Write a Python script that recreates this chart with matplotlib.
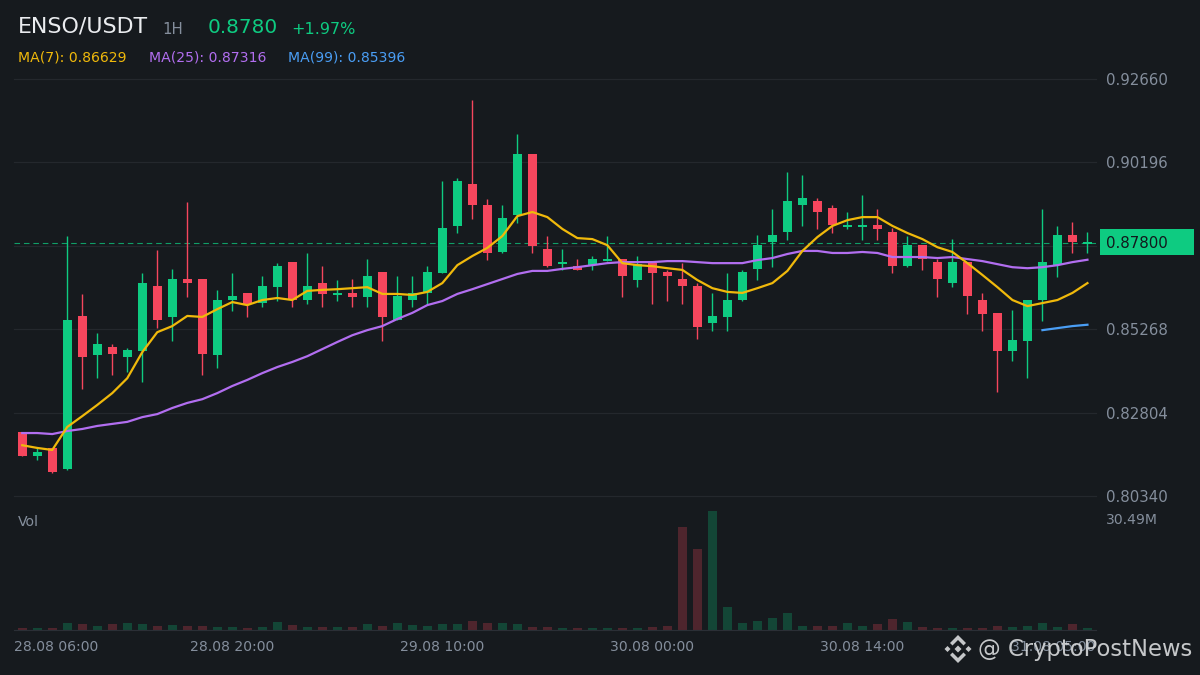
import matplotlib
matplotlib.use("Agg")
import matplotlib.pyplot as plt
from matplotlib.patches import Polygon, Rectangle
from matplotlib.transforms import ScaledTranslation

opens = [.8223,.8152,.8176,.8114,.8566,.8450,.8474,.8444,.8462,.8654,.8563,.8675,.8675,.8450,.8613,.8634,.8604,.8651,
         .8725,.8613,.8663,.8628,.8634,.8621,.8696,.8554,.8613,.8634,.8693,.8832,.8956,.8894,.8755,.8864,.9044,.8764,
         .8719,.8713,.8716,.8728,.8734,.8672,.8722,.8696,.8675,.8654,.8545,.8563,.8613,.8705,.8784,.8814,.8894,.8905,
         .8885,.8829,.8829,.8835,.8814,.8713,.8775,.8725,.8663,.8725,.8613,.8575,.8462,.8492,.8613,.8716,.8805,.8778]
closes = [.8152,.8164,.8105,.8554,.8444,.8483,.8453,.8465,.8663,.8554,.8675,.8663,.8453,.8613,.8625,.8601,.8654,.8713,
          .8613,.8654,.8631,.8634,.8621,.8684,.8563,.8625,.8634,.8696,.8826,.8965,.8894,.8752,.8855,.9044,.8772,.8713,
          .8725,.8702,.8734,.8734,.8684,.8719,.8693,.8684,.8654,.8533,.8566,.8613,.8696,.8775,.8805,.8905,.8914,.8873,
          .8835,.8835,.8835,.8823,.8713,.8775,.8734,.8675,.8725,.8625,.8572,.8462,.8495,.8613,.8725,.8805,.8784,.8780]
highs = [.8223,.8179,.8176,.8802,.8631,.8515,.8483,.8471,.8693,.8761,.8705,.8903,.8675,.8643,.8693,.8634,.8684,.8722,
         .8725,.8752,.8713,.8672,.8675,.8734,.8696,.8684,.8684,.8713,.8965,.8973,.9204,.8911,.8894,.9103,.9044,.8802,
         .8764,.8734,.8743,.8802,.8734,.8743,.8722,.8702,.8722,.8663,.8634,.8693,.8702,.8805,.8882,.8991,.8982,.8914,
         .8894,.8873,.8923,.8882,.8826,.8802,.8775,.8734,.8793,.8725,.8634,.8575,.8583,.8613,.8882,.8832,.8843,.8814]
lows = [.8152,.8140,.8102,.8111,.8350,.8382,.8391,.8400,.8371,.8530,.8492,.8621,.8391,.8412,.8580,.8563,.8592,.8610,
        .8592,.8601,.8592,.8610,.8592,.8592,.8492,.8554,.8592,.8601,.8693,.8811,.8852,.8731,.8752,.8840,.8752,.8710,
        .8702,.8702,.8702,.8728,.8621,.8651,.8601,.8610,.8601,.8498,.8521,.8521,.8610,.8672,.8710,.8790,.8832,.8823,
        .8811,.8823,.8790,.8790,.8693,.8710,.8702,.8621,.8651,.8572,.8521,.8341,.8433,.8382,.8551,.8681,.8752,.8752]
ma7 = [.8184,.8176,.8170,.8238,.8270,.8303,.8338,.8382,.8459,.8518,.8536,.8566,.8563,.8586,.8607,.8598,.8613,.8619,
       .8613,.8640,.8643,.8645,.8648,.8651,.8631,.8631,.8628,.8637,.8663,.8716,.8743,.8767,.8802,.8861,.8873,.8858,
       .8823,.8796,.8793,.8775,.8722,.8716,.8713,.8707,.8702,.8672,.8648,.8637,.8634,.8648,.8663,.8699,.8758,.8799,
       .8832,.8849,.8858,.8858,.8832,.8811,.8793,.8769,.8755,.8722,.8687,.8651,.8613,.8595,.8604,.8613,.8634,.8663]
ma25 = [.8220,.8220,.8217,.8226,.8232,.8241,.8247,.8253,.8267,.8276,.8294,.8309,.8320,.8338,.8359,.8377,.8397,.8415,
        .8430,.8447,.8468,.8489,.8509,.8524,.8536,.8557,.8575,.8598,.8610,.8631,.8645,.8660,.8675,.8690,.8699,.8699,
        .8705,.8710,.8716,.8722,.8725,.8725,.8725,.8728,.8728,.8725,.8722,.8722,.8722,.8731,.8737,.8749,.8758,.8758,
        .8752,.8752,.8755,.8752,.8740,.8740,.8740,.8737,.8740,.8734,.8728,.8719,.8710,.8707,.8710,.8716,.8725,.8732]
ma99 = [.8524,.8530,.8536,.8540]
ma99_start = 68
volumes = [.26,.26,.26,1.55,1.29,.78,1.29,1.55,1.29,.78,1.03,.78,.78,.52,.52,.26,.52,1.81,1.03,.52,.52,.52,.52,1.29,
           .78,1.55,1.03,.78,1.29,1.29,2.07,1.55,1.55,1.29,.52,.52,.26,.26,.26,.26,.26,.26,.52,.78,26.35,20.67,30.49,
           5.68,1.55,2.07,2.84,4.13,.78,.78,.78,1.55,.78,1.29,2.58,1.81,.52,.26,.26,.26,.26,.78,.52,.78,1.55,.52,1.29,.26]
price_ticks = [.92660,.90196,.87732,.85268,.82804,.80340]
price_tick_labels = ["0.92660","0.90196","","0.85268","0.82804","0.80340"]
time_tick_pos = [0,14,28,42,56,71]
time_tick_labels = ["28.08 06:00","28.08 20:00","29.08 10:00","30.08 00:00","30.08 14:00","31.08 05:00"]
last_price = .8780

BG = "#161A1E"; GRID = "#24282D"; GRAY = "#848E9C"
UP = "#0ECB81"; DOWN = "#F6465D"
YEL = "#F0B90B"; PUR = "#B26EF0"; BLU = "#4A9EF5"
W, H = 1200, 675

fig = plt.figure(figsize=(12, 6.75), dpi=100, facecolor=BG)
def rect(l, t, r, b):
    return [l / W, 1 - b / H, (r - l) / W, (b - t) / H]

ax = fig.add_axes(rect(14, 79, 1096, 496), facecolor=BG)
xs = list(range(len(opens)))
xlim = (-0.55, 71.57)
colors = [UP if c >= o else DOWN for o, c in zip(opens, closes)]
ax.vlines(xs, lows, highs, colors=colors, linewidth=1.0, zorder=3)
ax.bar(xs, [max(abs(c - o), 0.0005) for o, c in zip(opens, closes)],
       bottom=[min(o, c) for o, c in zip(opens, closes)], width=0.6, color=colors, linewidth=0, zorder=3)
ax.plot(xs, ma25, color=PUR, lw=1.6, zorder=4)
ax.plot(xs, ma7, color=YEL, lw=1.6, zorder=5)
ax.plot(range(ma99_start, ma99_start + len(ma99)), ma99, color=BLU, lw=1.6, zorder=5)
ax.axhline(last_price, color=UP, lw=0.8, alpha=0.75, dashes=(5, 3.5), zorder=2)
ax.set_xlim(*xlim)
ax.set_ylim(.80340, .92660)
ax.set_yticks(price_ticks, price_tick_labels)
ax.yaxis.tick_right()
ax.tick_params(axis="y", length=0, pad=7.2, labelsize=10.8, labelcolor=GRAY)
ax.set_xticks([])
ax.grid(axis="y", color=GRID, lw=0.9)
ax.set_axisbelow(True)
for gl in ax.get_ygridlines():
    gl.set_clip_on(False)
for s in ax.spines.values():
    s.set_visible(False)

vax = fig.add_axes(rect(14, 511, 1096, 629.5), facecolor="none")
vax.bar(xs, volumes, width=0.6, color=colors, alpha=0.25, linewidth=0)
vax.set_xlim(*xlim)
vax.set_ylim(0, 30.49)
vax.set_yticks([])
vax.set_xticks(time_tick_pos, time_tick_labels)
vax.tick_params(axis="x", length=0, pad=7.5, labelsize=10.1, labelcolor=GRAY)
for s in vax.spines.values():
    s.set_visible(False)
vax.spines["bottom"].set_visible(True)
vax.spines["bottom"].set_color("#2B2F36")
vax.spines["bottom"].set_linewidth(0.8)
labels = vax.get_xticklabels()
labels[0].set_ha("left")
labels[0].set_transform(labels[0].get_transform() + ScaledTranslation(-8.5 / 100, 0, fig.dpi_scale_trans))
labels[-1].set_ha("right")
labels[-1].set_transform(labels[-1].get_transform() + ScaledTranslation(7.5 / 100, 0, fig.dpi_scale_trans))

ov = fig.add_axes([0, 0, 1, 1], facecolor="none", zorder=10)
ov.set_xlim(0, W); ov.set_ylim(H, 0); ov.axis("off")
def label(x, y, s, color, size, **kw):
    ov.text(x, y, s, color=color, fontsize=size, va="center", ha=kw.pop("ha", "left"), **kw)
label(18, 27, "ENSO/USDT", "#EAECEF", 15.9)
label(162, 29.5, "1H", GRAY, 10.8)
label(208, 27.5, "0.8780", UP, 14.4)
label(291, 29, "+1.97%", UP, 11.5)
label(18, 57.5, "MA(7): 0.86629", YEL, 10.1)
label(149, 57.5, "MA(25): 0.87316", PUR, 10.1)
label(288, 57.5, "MA(99): 0.85396", BLU, 10.1)
label(18, 522.5, "Vol", GRAY, 10.1)
label(1106, 520, "30.49M", GRAY, 10.1)
ov.add_patch(Rectangle((1100, 229), 94, 26, color=UP, lw=0))
label(1106, 243, "0.87800", "#12181C", 10.8)

# watermark
cx, cy = 958, 649
lc = "#D9DBDD"
def diamond(dx, dy, r):
    ov.add_patch(Polygon([(cx + dx, cy + dy - r), (cx + dx + r, cy + dy), (cx + dx, cy + dy + r), (cx + dx - r, cy + dy)],
                         color=lc, lw=0, alpha=0.9))
diamond(0, 0, 3.5); diamond(-10.5, 0, 3); diamond(10.5, 0, 3)
for sgn in (-1, 1):
    ov.add_patch(Polygon([(cx, cy + sgn * 14), (cx + 8, cy + sgn * 6), (cx + 5.5, cy + sgn * 3.5), (cx, cy + sgn * 9),
                          (cx - 5.5, cy + sgn * 3.5), (cx - 8, cy + sgn * 6)], color=lc, lw=0, alpha=0.9))
label(978, 649.5, "@ CryptoPostNews", lc, 16.3, alpha=0.9)

fig.savefig("out.png", dpi=100, facecolor=BG)
